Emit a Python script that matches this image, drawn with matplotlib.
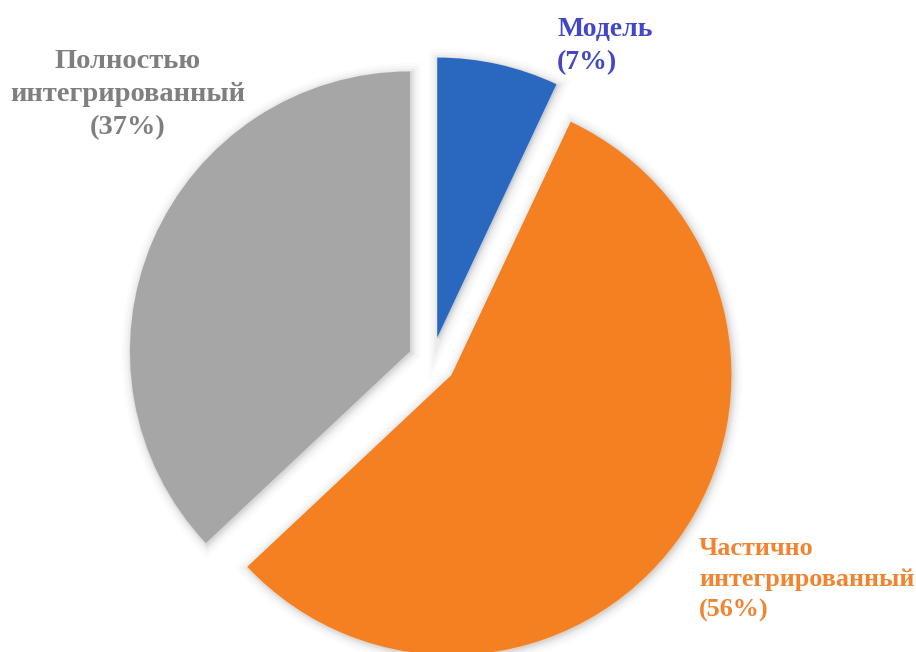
import matplotlib
matplotlib.use("Agg")
import matplotlib.pyplot as plt
import matplotlib.patheffects as pe

# shares of each integration type, clockwise from 12 o'clock
labels = ["Модель", "Частично\nинтегрированный", "Полностью\nинтегрированный"]
shares = [7, 56, 37]
slice_colors = ["#2a67be", "#f58021", "#a6a6a6"]
text_colors = ["#4147c8", "#f2832f", "#7f7f7f"]

W, H = 916, 652
fig = plt.figure(figsize=(W / 100, H / 100), dpi=100)
ax = fig.add_axes([0, 0, 1, 1])

wedges, _ = ax.pie(
    shares, colors=slice_colors, startangle=90, counterclock=False,
    radius=280, center=(432, 291), explode=[24, 24, 24],
    wedgeprops=dict(linewidth=0, edgecolor="none"), frame=True,
)
ax.set_xlim(0, W)
ax.set_ylim(0, H)
ax.set_aspect("equal")
ax.axis("off")

# soft halo around the slices
halo = [pe.Stroke(linewidth=lw, foreground="#000000", alpha=a, offset=(1, -1))
        for lw, a in [(14, 0.015), (10, 0.025), (6, 0.035), (3, 0.05)]]
for w in wedges:
    w.set_path_effects(halo + [pe.Normal()])

font = dict(family="Liberation Serif", fontweight="bold")
ax.text(128, H - 49, f"{labels[2]}\n({shares[2]}%)", ha="center", va="top",
        color=text_colors[2], fontsize=20.5, linespacing=1.42, **font)
ax.text(557, H - 17, f"{labels[0]}\n({shares[0]}%)", ha="left", va="top",
        color=text_colors[0], fontsize=20, linespacing=1.4, **font)
ax.text(699, H - 537, f"{labels[1]}\n({shares[1]}%)", ha="left", va="top",
        color=text_colors[1], fontsize=18.8, linespacing=1.42, **font)

fig.savefig("out.png", dpi=100, facecolor="white")
